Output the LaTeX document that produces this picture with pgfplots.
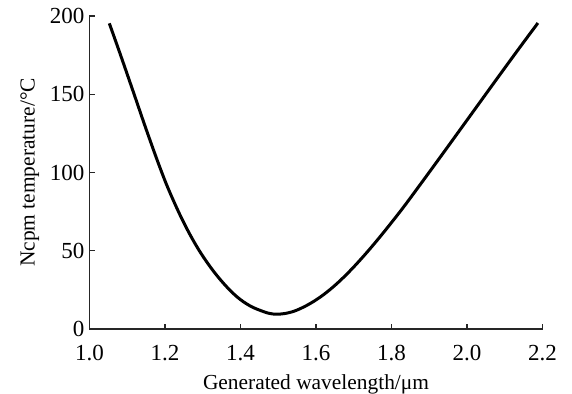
\documentclass[border=0pt]{standalone}
\usepackage{fontspec}
\setmainfont{Liberation Serif}
\usepackage{pgfplots}
\pgfplotsset{compat=1.18}
\begin{document}
\begin{tikzpicture}
\path[use as bounding box] (-44.75pt,-32.5pt) rectangle (241.25pt,164.5pt);
\begin{axis}[
  at={(0,0)}, anchor=south west,
  scale only axis, width=226.5pt, height=156.5pt,
  xmin=1.0, xmax=2.2, ymin=0, ymax=200,
  axis lines=left,
  axis line style={-, line width=0.6pt, black!85},
  tick style={line width=0.6pt, black!85},
  tick align=inside, major tick length=2.6pt,
  xtick={1.0,1.2,...,2.2}, ytick={0,50,100,150,200},
  /pgf/number format/assume math mode=true,
  xticklabel style={yshift=-4.5pt, /pgf/number format/.cd, fixed, fixed zerofill, precision=1},
  yticklabel style={xshift=1pt, /pgf/number format/.cd, fixed, precision=0},
  tick label style={font=\fontsize{11.5}{13}\selectfont},
  label style={font=\fontsize{10.7}{12.5}\selectfont},
  ylabel style={yshift=-1.5pt},
  xlabel={Generated wavelength/μm},
  ylabel={Ncpm temperature/°C},
  clip=false,
]
\addplot[black, line width=1.5pt, smooth, tension=0.6] coordinates {
(1.0525,195.3)
(1.0809,176.0)
(1.1162,151.4)
(1.1517,126.5)
(1.1870,102.9)
(1.2135,86.9)
(1.2488,68.4)
(1.2844,52.6)
(1.3196,39.8)
(1.3549,29.2)
(1.3905,20.6)
(1.4257,14.7)
(1.4610,11.1)
(1.4790,9.86)
(1.4970,9.45)
(1.5220,10.08)
(1.5496,12.08)
(1.5849,16.32)
(1.6202,21.97)
(1.6557,29.07)
(1.6910,37.37)
(1.7263,46.62)
(1.7618,56.63)
(1.7971,67.15)
(1.8324,78.05)
(1.8767,92.5)
(1.9297,110.0)
(1.9828,127.7)
(2.0358,145.4)
(2.0889,163.1)
(2.1419,180.6)
(2.1878,195.5)
};
\end{axis}
\end{tikzpicture}
\end{document}
